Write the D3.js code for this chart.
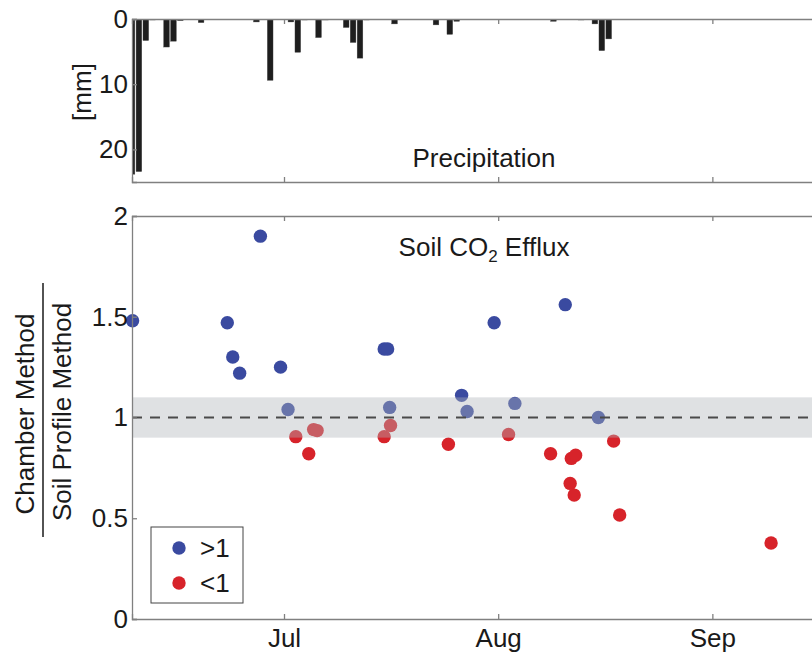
<!DOCTYPE html>
<html>
<head>
<meta charset="utf-8">
<script src="https://cdn.jsdelivr.net/npm/d3@7"></script>
<style>
  body { margin: 0; background: #fff; }
  svg { display: block; font-family: "Liberation Sans", Arial, Helvetica, sans-serif; }
  .axis path, .axis line { stroke: #808080; stroke-width: 1.3; }
  .axis text { font-size: 26px; fill: #1a1a1a; font-family: "Liberation Sans", Arial, sans-serif; }
</style>
</head>
<body>
<div id="chart"></div>
<script>
// precipitation (mm per day)
var precipDates = ["2010-06-09","2010-06-10","2010-06-11","2010-06-12","2010-06-14","2010-06-15","2010-06-16",
    "2010-06-19","2010-06-27","2010-06-29","2010-07-02","2010-07-03","2010-07-04","2010-07-06","2010-07-07",
    "2010-07-10","2010-07-11","2010-07-12","2010-07-13","2010-07-17","2010-07-23","2010-07-25","2010-07-26",
    "2010-08-09","2010-08-13","2010-08-15","2010-08-16","2010-08-17"];
var precipMm = [23.8, 23.4, 3.3, 0.15, 4.3, 3.4, 0.25,
    0.55, 0.45, 9.4, 0.45, 5.1, 0.15, 2.85, 0.15,
    1.3, 3.6, 6.0, 0.15, 0.75, 0.9, 2.35, 0.35,
    0.35, 0.15, 0.75, 4.85, 3.05];

// chamber / soil profile ratio, points above 1
var highDates = ["2010-06-09 02:00","2010-06-22 19:00","2010-06-23 14:00","2010-06-24 14:00","2010-06-27 14:00",
    "2010-06-30 12:00","2010-07-01 14:00","2010-07-15 12:00","2010-07-16 00:00","2010-07-16 07:00",
    "2010-07-26 17:00","2010-07-27 12:00","2010-07-31 10:00","2010-08-03 10:00","2010-08-10 17:00","2010-08-15 12:00"];
var highRatio = [1.48, 1.47, 1.30, 1.22, 1.90,
    1.25, 1.04, 1.34, 1.34, 1.05,
    1.11, 1.03, 1.47, 1.07, 1.56, 1.00];

// points below 1
var lowDates = ["2010-07-02 17:00","2010-07-04 14:00","2010-07-05 07:00","2010-07-05 19:00","2010-07-15 12:00",
    "2010-07-16 10:00","2010-07-24 19:00","2010-08-02 12:00","2010-08-08 14:00","2010-08-11 14:00",
    "2010-08-12 05:00","2010-08-11 10:00","2010-08-12 00:00","2010-08-17 17:00","2010-08-18 14:00","2010-09-09 12:00"];
var lowRatio = [0.905, 0.82, 0.94, 0.935, 0.905,
    0.96, 0.867, 0.916, 0.82, 0.797,
    0.813, 0.673, 0.615, 0.883, 0.516, 0.377];

var monthTicks = ["2010-07-01", "2010-08-01", "2010-09-01"];
var precipTicks = [0, 10, 20];
var ratioTicks = [0, 0.5, 1, 1.5, 2];
var bandRange = [0.9, 1.1];

var parseDay = d3.timeParse("%Y-%m-%d"),
    parseTime = d3.timeParse("%Y-%m-%d %H:%M");

var width = 812, height = 653;
var left = 132, right = 816;
var top1 = 19, bottom1 = 182;   // precipitation panel
var top2 = 216, bottom2 = 619;  // ratio panel

var svg = d3.select("#chart")
    .append("svg")
    .attr("width", width)
    .attr("height", height);

// shared time scale
var x = d3.scaleTime()
    .domain([parseDay("2010-06-09"), parseDay("2010-09-16")])
    .range([left, right]);

var yP = d3.scaleLinear().domain([0, 25]).range([top1, bottom1]);
var yR = d3.scaleLinear().domain([0, 2]).range([bottom2, top2]);

var blue = "#3a4aa0", red = "#d7232a";

// ---------- precipitation panel ----------
svg.append("clipPath").attr("id", "clipP")
    .append("rect").attr("x", left).attr("y", top1).attr("width", right - left).attr("height", bottom1 - top1);

var precip = precipDates.map((d, i) => ({date: parseDay(d), mm: precipMm[i]}));
var dayW = x(parseDay("2010-06-10")) - x(parseDay("2010-06-09"));
var barW = dayW * 0.82;

svg.append("g")
    .attr("clip-path", "url(#clipP)")
    .selectAll("rect")
    .data(precip)
    .join("rect")
    .attr("x", d => x(d.date) - barW / 2)
    .attr("y", yP(0))
    .attr("width", barW)
    .attr("height", d => yP(d.mm) - yP(0))
    .attr("fill", "#1e1e1e")
    .attr("stroke", "#444")
    .attr("stroke-width", 0.4);

svg.append("g").attr("class", "axis")
    .attr("transform", `translate(${left},0)`)
    .call(d3.axisLeft(yP).tickValues(precipTicks).tickSize(-5).tickPadding(4).tickFormat(d3.format("")));
svg.append("g").attr("class", "axis")
    .attr("transform", `translate(0,${bottom1})`)
    .call(d3.axisBottom(x).tickValues(monthTicks.map(parseDay)).tickSize(-5).tickFormat(""));
svg.append("g").attr("class", "axis")
    .attr("transform", `translate(0,${top1})`)
    .call(d3.axisTop(x).tickValues(monthTicks.map(parseDay)).tickSize(-5).tickFormat(""));
svg.append("line")
    .attr("x1", right).attr("x2", right).attr("y1", top1).attr("y2", bottom1)
    .attr("stroke", "#808080").attr("stroke-width", 1.3);

svg.append("text")
    .attr("transform", "translate(82,92) rotate(-90)")
    .attr("text-anchor", "middle")
    .attr("dominant-baseline", "central")
    .style("font-size", "26px").style("fill", "#1a1a1a")
    .text("[mm]");

svg.append("text")
    .attr("x", 484).attr("y", 167)
    .attr("text-anchor", "middle")
    .style("font-size", "26px").style("fill", "#1a1a1a")
    .text("Precipitation");

// ---------- ratio panel ----------
var highPts = highDates.map((d, i) => ({date: parseTime(d), v: highRatio[i]}));
var lowPts = lowDates.map((d, i) => ({date: parseTime(d), v: lowRatio[i]}));

svg.append("g")
    .selectAll("circle")
    .data(highPts)
    .join("circle")
    .attr("cx", d => x(d.date))
    .attr("cy", d => yR(d.v))
    .attr("r", 6.7)
    .attr("fill", blue);

svg.append("g")
    .selectAll("circle")
    .data(lowPts)
    .join("circle")
    .attr("cx", d => x(d.date))
    .attr("cy", d => yR(d.v))
    .attr("r", 6.7)
    .attr("fill", red);

// grey band drawn over the points, semi transparent
svg.append("rect")
    .attr("x", left)
    .attr("y", yR(bandRange[1]))
    .attr("width", right - left)
    .attr("height", yR(bandRange[0]) - yR(bandRange[1]))
    .attr("fill", "#b0b5ba")
    .attr("fill-opacity", 0.4);

svg.append("line")
    .attr("x1", left).attr("x2", right)
    .attr("y1", yR(1)).attr("y2", yR(1))
    .attr("stroke", "#4a4a4a")
    .attr("stroke-width", 1.8)
    .attr("stroke-dasharray", "10,8");

svg.append("g").attr("class", "axis")
    .attr("transform", `translate(${left},0)`)
    .call(d3.axisLeft(yR).tickValues(ratioTicks).tickSize(-5).tickPadding(4).tickFormat(d3.format("")));
svg.append("g").attr("class", "axis")
    .attr("transform", `translate(0,${bottom2})`)
    .call(d3.axisBottom(x).tickValues(monthTicks.map(parseDay)).tickSize(-5).tickPadding(10)
        .tickFormat(d3.timeFormat("%b")));
svg.append("g").attr("class", "axis")
    .attr("transform", `translate(0,${top2})`)
    .call(d3.axisTop(x).tickValues(monthTicks.map(parseDay)).tickSize(-5).tickFormat(""));
svg.append("line")
    .attr("x1", right).attr("x2", right).attr("y1", top2).attr("y2", bottom2)
    .attr("stroke", "#808080").attr("stroke-width", 1.3);

var title = svg.append("text")
    .attr("x", 484).attr("y", 256)
    .attr("text-anchor", "middle")
    .style("font-size", "26px").style("fill", "#1a1a1a");
title.append("tspan").text("Soil CO");
title.append("tspan").attr("dy", 6).style("font-size", "17px").text("2");
title.append("tspan").attr("dy", -6).text(" Efflux");

// y label as a fraction
svg.append("text")
    .attr("transform", "translate(25,414) rotate(-90)")
    .attr("text-anchor", "middle")
    .attr("dominant-baseline", "central")
    .style("font-size", "26px").style("fill", "#1a1a1a")
    .text("Chamber Method");
svg.append("line")
    .attr("x1", 43).attr("x2", 43).attr("y1", 283).attr("y2", 537)
    .attr("stroke", "#1a1a1a").attr("stroke-width", 1.5);
svg.append("text")
    .attr("transform", "translate(62,412) rotate(-90)")
    .attr("text-anchor", "middle")
    .attr("dominant-baseline", "central")
    .style("font-size", "26px").style("fill", "#1a1a1a")
    .text("Soil Profile Method");

// legend
svg.append("rect").attr("x", 151).attr("y", 527).attr("width", 92).attr("height", 76)
    .attr("fill", "#fff").attr("stroke", "#444").attr("stroke-width", 1);
svg.append("circle").attr("cx", 179).attr("cy", 548).attr("r", 6.7).attr("fill", blue);
svg.append("circle").attr("cx", 179).attr("cy", 583).attr("r", 6.7).attr("fill", red);
svg.append("text").attr("x", 200).attr("y", 548).attr("dominant-baseline", "central")
    .style("font-size", "26px").style("fill", "#1a1a1a").text(">1");
svg.append("text").attr("x", 200).attr("y", 583).attr("dominant-baseline", "central")
    .style("font-size", "26px").style("fill", "#1a1a1a").text("<1");
</script>
</body>
</html>
